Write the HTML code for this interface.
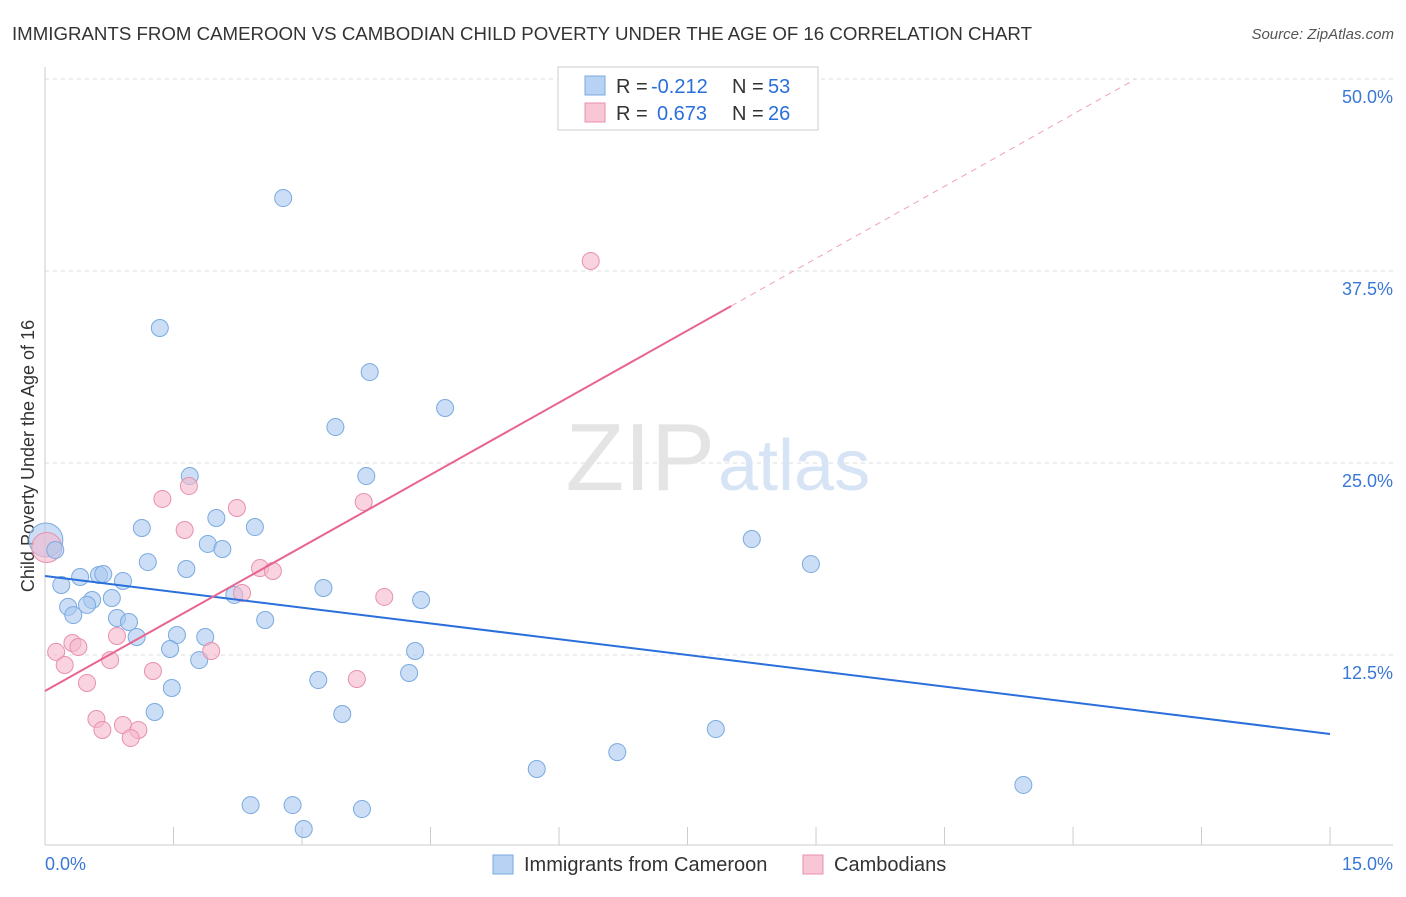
<!DOCTYPE html>
<html><head><meta charset="utf-8"><style>
body{margin:0;background:#fff;font-family:"Liberation Sans",sans-serif;}
svg text{font-family:"Liberation Sans",sans-serif;}
</style></head><body>
<svg id="chart" width="1406" height="892" xmlns="http://www.w3.org/2000/svg">
<text x="12" y="40" font-size="18" fill="#333" textLength="1020" lengthAdjust="spacingAndGlyphs">IMMIGRANTS FROM CAMEROON VS CAMBODIAN CHILD POVERTY UNDER THE AGE OF 16 CORRELATION CHART</text>
<text x="1394" y="39" font-size="15" fill="#555" text-anchor="end" font-style="italic">Source: ZipAtlas.com</text>
<text x="0" y="0" transform="translate(34,456) rotate(-90)" font-size="18" fill="#333" text-anchor="middle">Child Poverty Under the Age of 16</text>
<g id="grid"></g>
<text x="715" y="490" font-size="96" fill="#e4e4e4" text-anchor="end" font-family="Liberation Serif">ZIP</text>
<text x="718" y="490" font-size="72" fill="#d6e4f6">atlas</text>
<g id="marks"></g>
<g>
<rect x="558" y="67" width="260" height="63" fill="#fff" stroke="#ccc"/>
<rect x="585" y="76" width="20" height="19" fill="#b8d2f3" stroke="#7aaae0"/>
<rect x="585" y="103" width="20" height="19" fill="#f8c6d5" stroke="#e890ad"/>
<text x="616" y="93" font-size="20" fill="#333">R =</text>
<text x="651" y="93" font-size="20" fill="#2a6fdb">-0.212</text>
<text x="732" y="93" font-size="20" fill="#333">N =</text>
<text x="768" y="93" font-size="20" fill="#2a6fdb">53</text>
<text x="616" y="120" font-size="20" fill="#333">R =</text>
<text x="657" y="120" font-size="20" fill="#2a6fdb">0.673</text>
<text x="732" y="120" font-size="20" fill="#333">N =</text>
<text x="768" y="120" font-size="20" fill="#2a6fdb">26</text>
</g>
<g>
<rect x="493" y="855" width="20" height="19" fill="#b8d2f3" stroke="#7aaae0"/>
<text x="524" y="871" font-size="20" fill="#333">Immigrants from Cameroon</text>
<rect x="803" y="855" width="20" height="19" fill="#f8c6d5" stroke="#e890ad"/>
<text x="834" y="871" font-size="20" fill="#333">Cambodians</text>
</g>
</svg>
<script>
const blueX=[2.78,1.34,3.79,4.67,3.39,3.75,1.69,2.00,2.45,1.13,1.90,2.07,0.12,1.20,1.65,0.19,0.41,0.63,0.68,0.91,0.78,0.55,0.49,0.27,0.33,0.84,0.98,2.21,3.25,4.39,2.57,1.07,1.54,1.87,1.46,4.32,1.80,1.48,3.19,4.25,1.28,3.47,8.25,8.94,7.83,6.68,5.74,11.42,2.40,2.89,3.70,3.02];
const blueY=[42.25,33.79,30.92,28.58,27.34,24.15,24.15,21.42,20.83,20.77,19.73,19.40,19.34,18.55,18.10,17.06,17.58,17.71,17.77,17.32,16.21,16.08,15.76,15.63,15.10,14.91,14.65,16.41,16.86,16.08,14.78,13.67,13.80,13.67,12.89,12.76,12.17,10.35,10.87,11.33,8.79,8.66,20.05,18.42,7.68,6.18,5.08,4.04,2.73,2.73,2.47,1.17];
const pinkX=[6.37,1.68,1.37,2.24,3.72,1.63,2.51,2.66,2.30,3.96,0.84,0.32,0.39,0.13,1.94,0.76,0.23,1.26,3.64,0.49,0.60,0.67,0.91,1.09,1.00];
const pinkY=[38.15,23.50,22.66,22.07,22.46,20.64,18.16,17.97,16.54,16.28,13.74,13.28,13.02,12.70,12.76,12.17,11.85,11.46,10.94,10.68,8.33,7.62,7.94,7.62,7.10];
const bigBlue=[0.01,19.99], bigPink=[0.02,19.5];
const blueLine=[[0,17.64],[15,7.36]];
const pinkLine=[[0,10.16],[8.01,35.22]];
const pinkDash=[[8.01,35.22],[12.72,49.96]];
const yTicks=[12.5,25,37.5,50];
const xTicks=[0,1.5,3,4.5,6,7.5,9,10.5,12,13.5,15];
const sx=v=>45+v*85.67, sy=v=>847-v*15.36;
const NS="http://www.w3.org/2000/svg";
function mk(t,a,p){const e=document.createElementNS(NS,t);for(const k in a)e.setAttribute(k,a[k]);p.appendChild(e);return e;}
const g=document.getElementById('grid'), m=document.getElementById('marks');
yTicks.forEach(t=>{
 const l=mk('line',{x1:45,x2:1393,y1:sy(t),y2:sy(t),stroke:'#ddd','stroke-dasharray':'4,4'},g);
 
 
 const tx=mk('text',{x:1393,y:sy(t)+24,'font-size':18,fill:'#3a78d6','text-anchor':'end'},g);
 tx.textContent=t.toFixed(1)+'%';
 
 
});
const ax=mk('line',{x1:45,x2:45,y1:67,y2:845,stroke:'#ccc'},g);


const bx=mk('line',{x1:45,x2:1393,y1:845,y2:845,stroke:'#ccc'},g);


xTicks.forEach(t=>{
 const l=mk('line',{x1:sx(t),x2:sx(t),y1:827,y2:845,stroke:'#ccc'},g);
 
 
});
[[0,'start',45],[15,'end',1393]].forEach(([t,a,x])=>{
 const tx=mk('text',{x:x,y:870,'font-size':18,fill:'#3a78d6','text-anchor':a},g);
 tx.textContent=t.toFixed(1)+'%';
 
 
});
function dot(x,y,r,fill,stroke,name){
 const c=mk('circle',{cx:sx(x),cy:sy(y),r:r,fill:fill,'fill-opacity':0.6,stroke:stroke,'stroke-width':1},m);
 
 
}
dot(bigBlue[0],bigBlue[1],17,'#a8c8f0','#7aaae0','point-cameroon-large');
dot(bigPink[0],bigPink[1],15,'#f5b8cb','#e890ad','point-cambodians-large');
blueX.forEach((x,i)=>dot(x,blueY[i],8.5,'#a8c8f0','#7aaae0','point-cameroon'));
pinkX.forEach((x,i)=>dot(x,pinkY[i],8.5,'#f5b8cb','#e890ad','point-cambodians'));
function line(p,col,w,dash,name){
 const l=mk('line',{x1:sx(p[0][0]),y1:sy(p[0][1]),x2:sx(p[1][0]),y2:sy(p[1][1]),stroke:col,'stroke-width':w},m);
 if(dash)l.setAttribute('stroke-dasharray',dash);
 
 
}
line(blueLine,'#2a6fdb',2,null,'trend-line-cameroon');
line(pinkLine,'#e8648e',2,null,'trend-line-cambodians');
line(pinkDash,'#f0a0b8',1,'6,5','trend-line-cambodians-extension');
</script>
</body></html>
